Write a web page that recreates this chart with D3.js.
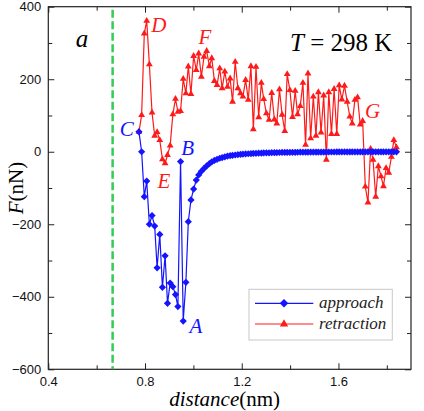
<!DOCTYPE html>
<html>
<head>
<meta charset="utf-8">
<script src="https://cdn.jsdelivr.net/npm/d3@7"></script>
<style>
  body { margin: 0; background: #fff; }
  svg { display: block; }
</style>
</head>
<body>
<svg id="chart"></svg>
<script>
// distance (nm), shared by both curves
const distance = [
  0.775, 0.786, 0.797, 0.807, 0.818, 0.829, 0.840, 0.850, 0.861, 0.872,
  0.883, 0.893, 0.904, 0.915, 0.926, 0.936, 0.947, 0.958, 0.969, 0.979,
  0.990, 1.001, 1.012, 1.022, 1.033, 1.044, 1.055, 1.066, 1.076, 1.087,
  1.098, 1.109, 1.119, 1.130, 1.141, 1.152, 1.162, 1.173, 1.184, 1.195,
  1.205, 1.216, 1.227, 1.238, 1.248, 1.259, 1.270, 1.281, 1.291, 1.302,
  1.313, 1.324, 1.335, 1.345, 1.356, 1.367, 1.378, 1.388, 1.399, 1.410,
  1.421, 1.431, 1.442, 1.453, 1.464, 1.474, 1.485, 1.496, 1.507, 1.517,
  1.528, 1.539, 1.550, 1.560, 1.571, 1.582, 1.593, 1.603, 1.614, 1.625,
  1.636, 1.647, 1.657, 1.668, 1.679, 1.690, 1.700, 1.711, 1.722, 1.733,
  1.743, 1.754, 1.765, 1.776, 1.786, 1.797, 1.808, 1.819, 1.829, 1.840
];

// force (nN) while approaching
const approachForce = [
  55, 0, -124, -81, -200, -176, -205, -320, -228, -374,
  -287, -418, -362, -372, -394, -427, -27, -467, -360, -193,
  -133, -103, -78, -64, -54, -46, -39, -33, -28, -24,
  -21, -18, -16, -14, -12, -11, -10, -9, -8, -7,
  -6.5, -6.0, -5.5, -5.1, -4.7, -4.3, -4.0, -3.7, -3.4, -3.1,
  -2.9, -2.7, -2.5, -2.3, -2.1, -2.0, -1.9, -1.8, -1.7, -1.6,
  -1.5, -1.4, -1.3, -1.2, -1.2, -1.1, -1.0, -1.0, -0.9, -0.9,
  -0.8, -0.8, -0.8, -0.7, -0.7, -0.7, -0.6, -0.6, -0.6, -0.5,
  -0.5, -0.5, -0.5, -0.4, -0.4, -0.4, -0.4, -0.4, -0.3, -0.3,
  -0.3, -0.3, -0.3, -0.3, -0.3, -0.2, -0.2, -0.2, -0.2, -0.2
];

// force (nN) while retracting
const retractionForce = [
  55, 101, 326, 361, 241, 108, 44, 54, 32, -21,
  -32, -9, 17, 103, 146, 110, 112, 201, 161, 235,
  159, 264, 225, 271, 207, 262, 278, 236, 258, 195,
  184, 230, 175, 221, 179, 202, 138, 248, 175, 161,
  152, 198, 143, 236, 62, 234, 95, 190, 145, 106,
  88, 162, 89, 78, 172, 102, 57, 214, 170, 96,
  168, 103, 126, 190, 19, 216, 37, 152, 44, 164,
  53, 155, -22, 164, 49, 173, 49, 183, 144, 182,
  138, 97, 78, 143, 150, 75, 85, -96, -140, 8,
  -22, -124, -40, -68, -95, -45, -58, -14, 32, 12
];

const wallDistance = 0.666;

const xTicks = [0.4, 0.8, 1.2, 1.6];
const xMinorTicks = [0.6, 1.0, 1.4, 1.8];
const yTicks = [-600, -400, -200, 0, 200, 400];
const yMinorTicks = [-500, -300, -100, 100, 300];

const pointLabels = [
  { text: "A", x: 0.984, y: -499, series: "approach" },
  { text: "B", x: 0.950, y: -9, series: "approach" },
  { text: "C", x: 0.696, y: 42, series: "approach" },
  { text: "D", x: 0.826, y: 329, series: "retraction" },
  { text: "E", x: 0.852, y: -101, series: "retraction" },
  { text: "F", x: 1.021, y: 296, series: "retraction" },
  { text: "G", x: 1.710, y: 92, series: "retraction" }
];

const W = 424, H = 411;
const margin = { top: 6.7, right: 13, bottom: 41.7, left: 48.3 };
const width = W - margin.left - margin.right;
const height = H - margin.top - margin.bottom;

const blue = "#1414ff", red = "#ff1a1a", green = "#33cc55";
const serif = "Liberation Serif, Times New Roman, Times, DejaVu Serif, serif";
const sans = "Liberation Sans, Arial, Helvetica, sans-serif";

const svg = d3.select("#chart").attr("width", W).attr("height", H);
const g = svg.append("g").attr("transform", `translate(${margin.left},${margin.top})`);

const x = d3.scaleLinear().domain([0.4, 1.9]).range([0, width]);
const y = d3.scaleLinear().domain([-600, 400]).range([height, 0]);

// axes with inward ticks
function styleAxis(sel) {
  sel.select(".domain").remove();
  sel.selectAll("line").attr("stroke", "#222").attr("stroke-width", 1);
  sel.selectAll("text").attr("font-family", sans).attr("font-size", 13).attr("fill", "#111");
}

g.append("g").attr("transform", `translate(0,${height})`)
  .call(d3.axisBottom(x).tickValues(xTicks).tickSize(-6).tickPadding(7).tickFormat(d3.format(".1f")))
  .call(styleAxis);
g.append("g").attr("transform", `translate(0,${height})`)
  .call(d3.axisBottom(x).tickValues(xMinorTicks).tickSize(-4).tickFormat(""))
  .call(styleAxis);
g.append("g")
  .call(d3.axisTop(x).tickValues(xTicks).tickSize(-6).tickFormat(""))
  .call(styleAxis);
g.append("g")
  .call(d3.axisTop(x).tickValues(xMinorTicks).tickSize(-4).tickFormat(""))
  .call(styleAxis);

g.append("g")
  .call(d3.axisLeft(y).tickValues(yTicks).tickSize(-6).tickPadding(7).tickFormat(d3.format("d")))
  .call(styleAxis);
g.append("g")
  .call(d3.axisLeft(y).tickValues(yMinorTicks).tickSize(-4).tickFormat(""))
  .call(styleAxis);
g.append("g").attr("transform", `translate(${width},0)`)
  .call(d3.axisRight(y).tickValues(yTicks).tickSize(-6).tickFormat(""))
  .call(styleAxis);
g.append("g").attr("transform", `translate(${width},0)`)
  .call(d3.axisRight(y).tickValues(yMinorTicks).tickSize(-4).tickFormat(""))
  .call(styleAxis);

// frame
g.append("rect")
  .attr("width", width).attr("height", height)
  .attr("fill", "none").attr("stroke", "#222").attr("stroke-width", 1.2);

// wall position
g.append("line")
  .attr("x1", x(wallDistance)).attr("x2", x(wallDistance))
  .attr("y1", 3).attr("y2", height)
  .attr("stroke", green).attr("stroke-width", 2.5)
  .attr("stroke-dasharray", "8,3.5");

const approach = distance.map((d, i) => ({ x: d, y: approachForce[i] }));
const retraction = distance.map((d, i) => ({ x: d, y: retractionForce[i] }));

const line = d3.line().x(d => x(d.x)).y(d => y(d.y));

const diamond = d3.symbol().type(d3.symbolSquare).size(26);
const triangle = d3.symbol().type(d3.symbolTriangle).size(20);

// retraction curve
g.append("path").datum(retraction)
  .attr("d", line).attr("fill", "none")
  .attr("stroke", red).attr("stroke-width", 1.2);
g.selectAll(".tri").data(retraction).enter().append("path")
  .attr("class", "tri")
  .attr("d", triangle)
  .attr("transform", d => `translate(${x(d.x)},${y(d.y)})`)
  .attr("fill", red);

// approach curve
g.append("path").datum(approach)
  .attr("d", line).attr("fill", "none")
  .attr("stroke", blue).attr("stroke-width", 1.2);
g.selectAll(".dia").data(approach).enter().append("path")
  .attr("class", "dia")
  .attr("d", diamond)
  .attr("transform", d => `translate(${x(d.x)},${y(d.y)}) rotate(45)`)
  .attr("fill", blue);

// point labels
g.selectAll(".plabel").data(pointLabels).enter().append("text")
  .attr("class", "plabel")
  .attr("x", d => x(d.x)).attr("y", d => y(d.y))
  .style("font-family", serif).style("font-style", "italic").style("font-size", "21px")
  .attr("fill", d => d.series === "approach" ? blue : red)
  .text(d => d.text);

// panel letter and temperature
g.append("text")
  .attr("x", x(0.514)).attr("y", y(289))
  .style("font-family", serif).style("font-style", "italic").style("font-size", "25px")
  .text("a");

const tText = g.append("text")
  .attr("x", x(1.40)).attr("y", y(279))
  .style("font-family", serif).style("font-size", "25px");
tText.append("tspan").style("font-style", "italic").text("T");
tText.append("tspan").text(" = 298 K");

// legend
const legend = g.append("g").attr("transform", `translate(${249 - margin.left},${289.3 - margin.top})`);
legend.append("rect")
  .attr("width", 143.3).attr("height", 50.7)
  .attr("fill", "#fff").attr("stroke", "#c8c8c8").attr("stroke-width", 1);

const legendItems = [
  { name: "approach", color: blue, sym: diamond, rot: 45 },
  { name: "retraction", color: red, sym: triangle, rot: 0 }
];
legendItems.forEach((item, i) => {
  const yy = 14 + i * 20.7;
  legend.append("line")
    .attr("x1", 6).attr("x2", 64.3).attr("y1", yy).attr("y2", yy)
    .attr("stroke", item.color).attr("stroke-width", 1.2);
  legend.append("path")
    .attr("d", item.sym.size(i === 0 ? 36 : 30)())
    .attr("transform", `translate(35,${yy}) rotate(${item.rot})`)
    .attr("fill", item.color);
  legend.append("text")
    .attr("x", 70).attr("y", yy + 5)
    .style("font-family", serif).style("font-style", "italic").style("font-size", "17px")
    .attr("fill", "#222")
    .text(item.name);
});

// axis titles
const xTitle = svg.append("text")
  .attr("x", margin.left + width / 2 - 5).attr("y", 406)
  .attr("text-anchor", "middle")
  .style("font-family", serif).style("font-size", "21px");
xTitle.append("tspan").style("font-style", "italic").text("distance");
xTitle.append("tspan").text("(nm)");

const yTitle = svg.append("text")
  .attr("transform", `translate(23,${margin.top + height / 2}) rotate(-90)`)
  .attr("text-anchor", "middle")
  .style("font-family", serif).style("font-size", "21px");
yTitle.append("tspan").style("font-style", "italic").text("F");
yTitle.append("tspan").text("(nN)");
</script>
</body>
</html>
